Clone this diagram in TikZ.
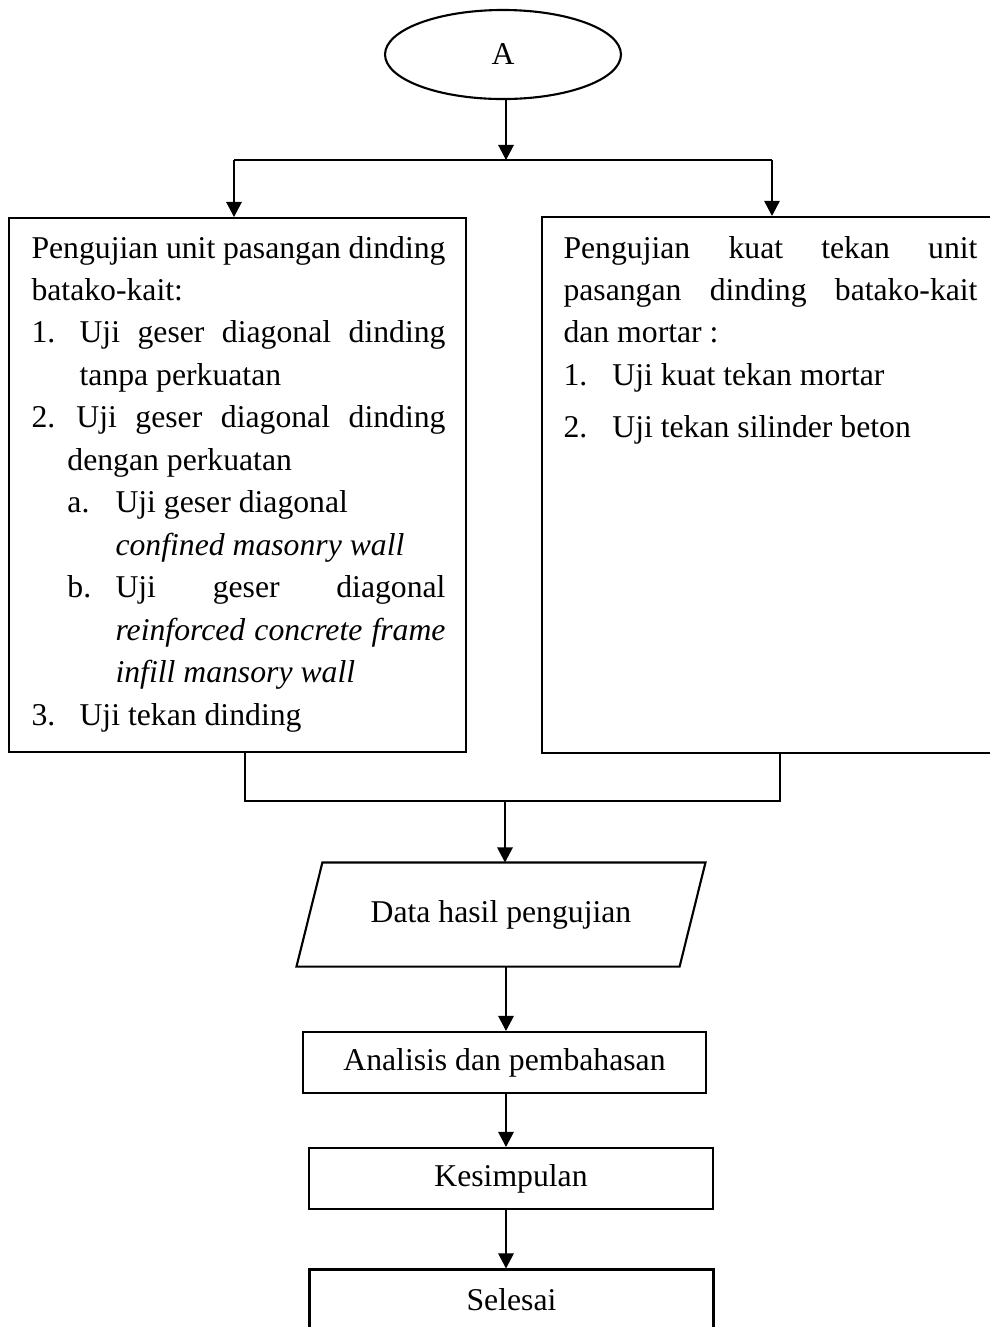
\documentclass[tikz,border=0pt]{standalone}
\usepackage{fontspec}
\setmainfont{Liberation Serif}
\usetikzlibrary{arrows.meta,shapes.geometric}
\begin{document}
\begin{tikzpicture}[x=0.3785pt,y=-0.3785pt,
  txt/.style={font=\fontsize{12}{16.07}\selectfont},
  boxnode/.style={draw, line width=0.8pt, inner sep=0pt, txt},
  conn/.style={line width=0.45pt},
  arr/.style={conn, -{Triangle[width=5.9pt,length=5.7pt]}}]
\useasboundingbox (0,0) rectangle (990,1327);

% start
\node[boxnode, ellipse, minimum width=89.3pt, minimum height=33.7pt] (A) at (503,54.5) {A};
\coordinate (split) at (506,160);
\coordinate (splitL) at (234,160);
\coordinate (splitR) at (772,160);

% two test boxes
\node[boxnode, minimum width=173pt, minimum height=202.1pt] (left) at (237.5,485) {};
\node[boxnode, minimum width=173pt, minimum height=202.9pt] (right) at (770.5,485) {};

\node[txt, anchor=base west, inner sep=0pt] (lefttext) at (31,258) {\parbox[t]{156.7pt}{%
\makebox[156.7pt][s]{Pengujian unit pasangan dinding}\\
batako-kait:\\
\makebox[18.2pt][l]{1.}\makebox[138.5pt][s]{Uji geser diagonal dinding}\\
\hspace*{18.2pt}tanpa perkuatan\\
\makebox[17.0pt][l]{2.}\makebox[139.7pt][s]{Uji geser diagonal dinding}\\
\hspace*{13.6pt}dengan perkuatan\\
\hspace*{13.6pt}\makebox[18.2pt][l]{a.}Uji geser diagonal\\
\hspace*{31.8pt}\textit{confined masonry wall}\\
\hspace*{13.6pt}\makebox[18.2pt][l]{b.}\makebox[124.9pt][s]{Uji geser diagonal}\\
\hspace*{31.8pt}\makebox[124.9pt][s]{\itshape reinforced concrete frame}\\
\hspace*{31.8pt}\textit{infill mansory wall}\\
\makebox[18.2pt][l]{3.}Uji tekan dinding}};

\node[txt, anchor=base west, inner sep=0pt] (righttext) at (563,258) {\parbox[t]{156.7pt}{%
\makebox[156.7pt][s]{Pengujian kuat tekan unit}\\
\makebox[156.7pt][s]{pasangan dinding batako-kait}\\
dan mortar :\\
\makebox[18.5pt][l]{1.}Uji kuat tekan mortar\\[3.5pt]
\makebox[18.5pt][l]{2.}Uji tekan silinder beton}};

% merge
\coordinate (mL) at (245,801);
\coordinate (mR) at (780,801);
\coordinate (mM) at (505,801);

% data (parallelogram)
\node[txt, inner sep=0pt, minimum width=144.6pt, minimum height=39pt] (data) at (501,914.5)
  {\raisebox{2.6pt}{Data hasil pengujian}};
\draw[line width=0.8pt, line join=miter]
  ([xshift=4.9pt]data.north west) -- ([xshift=4.9pt]data.north east)
  -- ([xshift=-4.9pt]data.south east) -- ([xshift=-4.9pt]data.south west) -- cycle;

\node[boxnode, minimum width=152.5pt, minimum height=23.1pt] (analisis) at (504.5,1062.5) {Analisis dan pembahasan};
\node[boxnode, minimum width=152.9pt, minimum height=23.1pt] (kesimpulan) at (511,1178.5) {Kesimpulan};
\node[boxnode, minimum width=152.9pt, minimum height=23.1pt] (selesai) at (511.5,1300) {Selesai};
\coordinate (col) at (506,0);

% connectors
\draw[arr] (split |- A.south) -- (split);
\draw[conn] (splitL) -- (splitR);
\draw[arr] (splitL) -- (splitL |- left.north);
\draw[arr] (splitR) -- (splitR |- right.north);
\draw[conn] (mL |- left.south) -- (mL) -- (mR) -- (mR |- right.south);
\draw[arr] (mM) -- (mM |- data.north);
\draw[arr] (col |- data.south) -- (col |- analisis.north);
\draw[arr] (col |- analisis.south) -- (col |- kesimpulan.north);
\draw[arr] (col |- kesimpulan.south) -- (col |- selesai.north);
\end{tikzpicture}
\end{document}
